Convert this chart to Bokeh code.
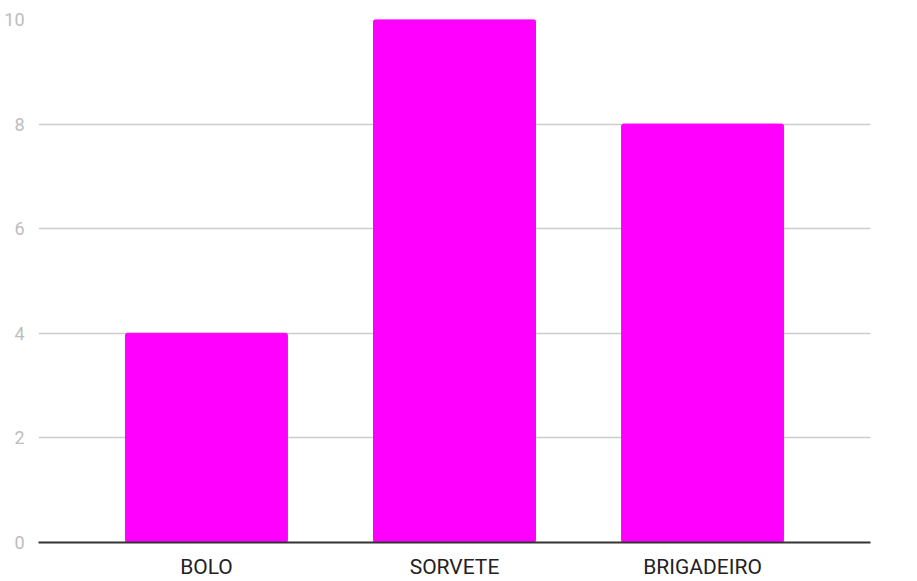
from bokeh.plotting import figure
from bokeh.models import FactorRange, Range1d, FixedTicker
from bokeh.embed import file_html
from bokeh.resources import INLINE

categories = ["BOLO", "SORVETE", "BRIGADEIRO"]
values = [4, 10, 8]
y_ticks = [0, 2, 4, 6, 8, 10]

p = figure(width=909, height=581, output_backend="svg", toolbar_location=None,
           x_range=FactorRange(*categories, range_padding=0.118, range_padding_units="percent"),
           y_range=Range1d(0, 10))
p.min_border_left = 38
p.min_border_right = 39
p.min_border_top = 19
p.min_border_bottom = 38
p.outline_line_color = None

r = p.vbar(x=categories, top=values, width=0.653, color="#FF00FF", border_radius=2)

p.yaxis.ticker = FixedTicker(ticks=y_ticks)
p.yaxis.axis_line_color = None
p.yaxis.major_tick_line_color = None
p.yaxis.minor_tick_line_color = None
p.yaxis.major_label_text_color = "#bdbdbd"
p.yaxis.major_label_text_font = "Roboto"
p.yaxis.major_label_text_font_size = "18px"
p.yaxis.major_label_standoff = 8

p.xaxis.axis_line_color = "#333333"
p.xaxis.axis_line_width = 2
p.xaxis.major_tick_line_color = None
p.xaxis.minor_tick_line_color = None
p.xaxis.major_label_text_color = "#222222"
p.xaxis.major_label_text_font = "Roboto"
p.xaxis.major_label_text_font_size = "21px"
p.xaxis.major_label_standoff = 6

p.xgrid.grid_line_color = None
p.ygrid.grid_line_color = "#cccccc"
p.ygrid.grid_line_width = 1.5

open("out.html", "w").write(file_html(p, INLINE))
